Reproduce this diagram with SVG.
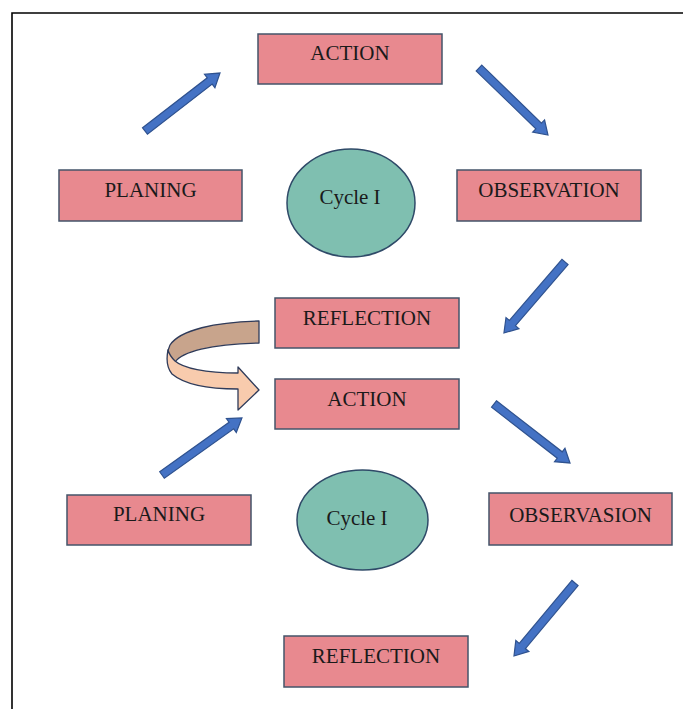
<svg xmlns="http://www.w3.org/2000/svg" width="683" height="709" viewBox="0 0 683 709">
<style>
.box{fill:#E8898F;stroke:#44546A;stroke-width:1.5}
.ell{fill:#7FBFB0;stroke:#2F4A68;stroke-width:1.5}
.t{font-family:"Liberation Serif","Times New Roman",serif;font-size:21px;fill:#1a1a1a;text-anchor:middle}
.arr{fill:#4472C4;stroke:#2F528F;stroke-width:1.2;stroke-linejoin:miter}
.rib{stroke:#2F3B5A;stroke-width:1.3;stroke-linejoin:round}
</style>
<rect x="0" y="0" width="683" height="709" fill="#ffffff"/>
<path d="M12,709 L12,13 L683,13" fill="none" stroke="#000" stroke-width="1.6"/>
<g id="connectors">
<polygon class="arr" transform="translate(145,131) rotate(-37.7)" points="0,-4 81.8,-4 81.8,-8.5 94.8,0 81.8,8.5 81.8,4 0,4"/>
<polygon class="arr" transform="translate(479,68) rotate(44.2)" points="0,-4 83.2,-4 83.2,-8.5 96.2,0 83.2,8.5 83.2,4 0,4"/>
<polygon class="arr" transform="translate(565,262) rotate(130.7)" points="0,-4 80.6,-4 80.6,-8.5 93.6,0 80.6,8.5 80.6,4 0,4"/>
<polygon class="arr" transform="translate(162,475) rotate(-35.5)" points="0,-4 85.2,-4 85.2,-8.5 98.2,0 85.2,8.5 85.2,4 0,4"/>
<polygon class="arr" transform="translate(494,404) rotate(37.8)" points="0,-4 83.2,-4 83.2,-8.5 96.2,0 83.2,8.5 83.2,4 0,4"/>
<polygon class="arr" transform="translate(575,583) rotate(129.9)" points="0,-4 82.1,-4 82.1,-8.5 95.1,0 82.1,8.5 82.1,4 0,4"/>
<path class="rib" fill="#C8A48C" d="M259,321 C215,322 180,330 170,345 C168,349 167,354 168,360 L175,362 C182,352 210,344 259,343 Z"/>
<path class="rib" fill="#F8CBAD" d="M168,350 C166,360 167,368 172,374 C185,385 210,389 238,389 L238,410 L259,390 L238,367 L238,373 C205,373 183,368 175,361 C171,357 169,354 168,350 Z"/>
</g>
<g id="action1"><rect class="box" x="258" y="34" width="184" height="50"/><text class="t" x="350" y="60">ACTION</text></g>
<g id="planing1"><rect class="box" x="59" y="170" width="183" height="51"/><text class="t" x="150.5" y="197">PLANING</text></g>
<g id="observation1"><rect class="box" x="457" y="170" width="184" height="51"/><text class="t" x="549" y="197">OBSERVATION</text></g>
<g id="cycle1"><ellipse class="ell" cx="351" cy="203" rx="64" ry="54"/><text class="t" x="350" y="204">Cycle I</text></g>
<g id="reflection1"><rect class="box" x="275" y="298" width="184" height="50"/><text class="t" x="367" y="325">REFLECTION</text></g>
<g id="action2"><rect class="box" x="275" y="379" width="184" height="50"/><text class="t" x="367" y="406">ACTION</text></g>
<g id="planing2"><rect class="box" x="67" y="495" width="184" height="50"/><text class="t" x="159" y="521">PLANING</text></g>
<g id="cycle2"><ellipse class="ell" cx="362.5" cy="520" rx="65.5" ry="50"/><text class="t" x="357" y="525">Cycle I</text></g>
<g id="observasion2"><rect class="box" x="489" y="493" width="183" height="52"/><text class="t" x="580.5" y="522">OBSERVASION</text></g>
<g id="reflection2"><rect class="box" x="284" y="636" width="184" height="51"/><text class="t" x="376" y="663">REFLECTION</text></g>
</svg>
